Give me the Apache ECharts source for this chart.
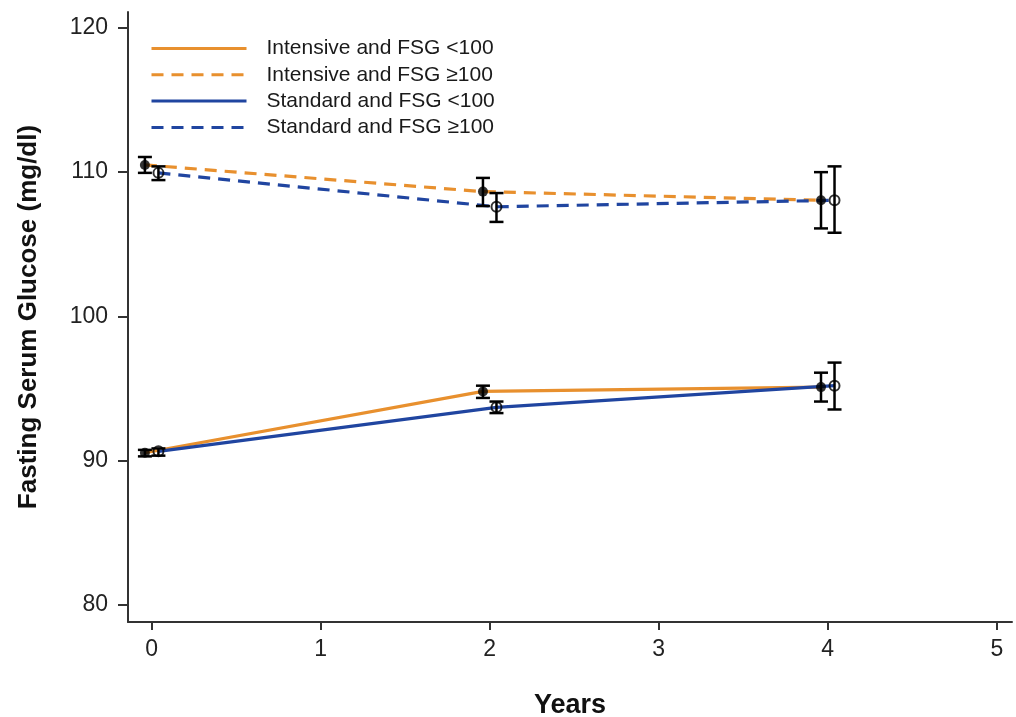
<!DOCTYPE html>
<html>
<head>
<meta charset="utf-8">
<script src="https://cdn.jsdelivr.net/npm/echarts@6/dist/echarts.min.js"></script>
<style>html,body{margin:0;padding:0;background:#fff}#c{width:1016px;height:717px}</style>
</head>
<body>
<div id="c"></div>
<script>
const years = [0, 2, 4];
const xTicks = [0, 1, 2, 3, 4, 5];
const yTicks = [80, 90, 100, 110, 120];
const seriesNames = ['Intensive and FSG <100', 'Intensive and FSG \u2265100', 'Standard and FSG <100', 'Standard and FSG \u2265100'];
// mean values
const intLow = [90.55, 94.8, 95.1];
const intHigh = [110.5, 108.65, 108.05];
const stdLow = [90.65, 93.7, 95.2];
const stdHigh = [109.95, 107.6, 108.05];
// error bar lower/upper
const intLowLo = [90.3, 94.35, 94.1];
const intLowHi = [90.75, 95.2, 96.1];
const intHighLo = [109.95, 107.65, 106.1];
const intHighHi = [111.05, 109.6, 110.0];
const stdLowLo = [90.35, 93.3, 93.55];
const stdLowHi = [90.85, 94.1, 96.8];
const stdHighLo = [109.45, 106.55, 105.8];
const stdHighHi = [110.4, 108.55, 110.4];

const DODGE = 0.04;
const ORANGE = '#E8902E';
const BLUE = '#2045A0';
const FONT = 'Liberation Sans, Arial, sans-serif';

function pts(vals, off) { return years.map((y, i) => [y + off, vals[i]]); }
function bars(lo, hi, off) { return years.map((y, i) => [y + off, lo[i], hi[i]]); }

function lineSeries(name, vals, off, color, type) {
  return {
    name: name, type: 'line', data: pts(vals, off), symbol: 'none',
    lineStyle: { color: color, width: 3.2, type: type === 'dashed' ? [12, 8] : 'solid' },
    itemStyle: { color: color }, z: 2, silent: true
  };
}
function errSeries(lo, hi, off) {
  return {
    type: 'custom', data: bars(lo, hi, off), z: 3, silent: true,
    renderItem: function (params, api) {
      const x = api.value(0);
      const p1 = api.coord([x, api.value(1)]);
      const p2 = api.coord([x, api.value(2)]);
      const w = 7;
      const st = { stroke: '#000', lineWidth: 2.5 };
      return { type: 'group', children: [
        { type: 'line', shape: { x1: p1[0], y1: p1[1], x2: p2[0], y2: p2[1] }, style: st },
        { type: 'line', shape: { x1: p1[0] - w, y1: p1[1], x2: p1[0] + w, y2: p1[1] }, style: st },
        { type: 'line', shape: { x1: p2[0] - w, y1: p2[1], x2: p2[0] + w, y2: p2[1] }, style: st }
      ]};
    }
  };
}
function markSeries(vals, off, filled) {
  return {
    type: 'scatter', data: pts(vals, off), symbol: 'circle', symbolSize: 10, z: 4, silent: true,
    itemStyle: filled ? { color: '#000' } : { color: 'rgba(0,0,0,0)', borderColor: '#000', borderWidth: 2 }
  };
}

const chart = echarts.init(document.getElementById('c'), null, { renderer: 'canvas' });
chart.setOption({
  animation: false,
  backgroundColor: '#fff',
  grid: { left: 128, right: 4, top: 12, bottom: 95, containLabel: false, outerBoundsMode: 'none' },
  legend: {
    data: seriesNames, orient: 'vertical', left: 145, top: 33,
    itemWidth: 95, itemHeight: 20, itemGap: 5.3, selectedMode: false,
    itemStyle: { opacity: 0 },
    lineStyle: { width: 3 },
    textStyle: { fontFamily: FONT, fontSize: 21, lineHeight: 20, color: '#1a1a1a', padding: [0, 0, 0, 15] }
  },
  xAxis: {
    type: 'value', min: -0.14, max: 5.09,
    name: 'Years', nameLocation: 'middle', nameGap: 70,
    nameTextStyle: { fontFamily: FONT, fontSize: 27, fontWeight: 'bold', color: '#111' },
    axisLine: { show: true, onZero: false, lineStyle: { color: '#333', width: 2 } },
    axisTick: { show: true, length: 8, customValues: xTicks, lineStyle: { color: '#333', width: 2 } },
    axisLabel: { customValues: xTicks, fontFamily: FONT, fontSize: 23, color: '#222', margin: 16 },
    splitLine: { show: false }
  },
  yAxis: {
    type: 'value', min: 78.82, max: 121.1,
    name: 'Fasting Serum Glucose (mg/dl)', nameLocation: 'middle', nameGap: 86, nameRotate: 90,
    nameTextStyle: { fontFamily: FONT, fontSize: 26, fontWeight: 'bold', color: '#111' },
    axisLine: { show: true, onZero: false, lineStyle: { color: '#333', width: 2 } },
    axisTick: { show: true, length: 10, customValues: yTicks, lineStyle: { color: '#333', width: 2 } },
    axisLabel: { customValues: yTicks, fontFamily: FONT, fontSize: 23, color: '#222', margin: 20 },
    splitLine: { show: false }
  },
  series: [
    lineSeries(seriesNames[0], intLow, -DODGE, ORANGE, 'solid'),
    lineSeries(seriesNames[1], intHigh, -DODGE, ORANGE, 'dashed'),
    lineSeries(seriesNames[2], stdLow, DODGE, BLUE, 'solid'),
    lineSeries(seriesNames[3], stdHigh, DODGE, BLUE, 'dashed'),
    errSeries(intLowLo, intLowHi, -DODGE),
    errSeries(intHighLo, intHighHi, -DODGE),
    errSeries(stdLowLo, stdLowHi, DODGE),
    errSeries(stdHighLo, stdHighHi, DODGE),
    markSeries(intLow, -DODGE, true),
    markSeries(intHigh, -DODGE, true),
    markSeries(stdLow, DODGE, false),
    markSeries(stdHigh, DODGE, false)
  ]
});
</script>
</body>
</html>
